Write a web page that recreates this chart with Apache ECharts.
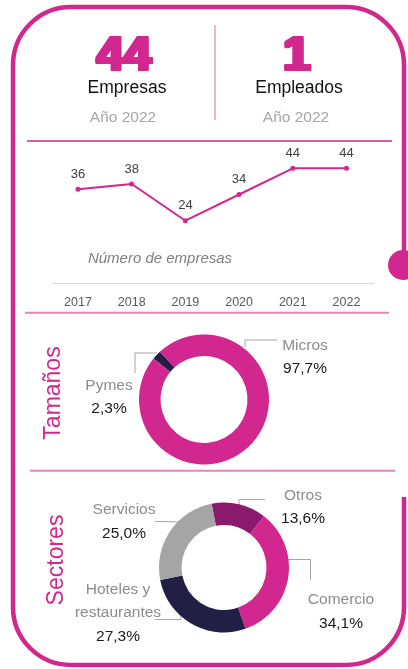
<!DOCTYPE html>
<html>
<head>
<meta charset="utf-8">
<script src="https://cdn.jsdelivr.net/npm/echarts@6/dist/echarts.min.js"></script>
<style>
  html, body { margin: 0; padding: 0; background: #fff; }
  #main { width: 408px; height: 669px; }
</style>
</head>
<body>
<div id="main"></div>
<script>
// datos
const anios = ['2017', '2018', '2019', '2020', '2021', '2022'];
const numEmpresas = [36, 38, 24, 34, 44, 44];
const tamanos = ['Pymes', 'Micros'];
const tamanosPct = [2.3, 97.7];
const sectores = ['Otros', 'Comercio', 'Hoteles y\nrestaurantes', 'Servicios'];
const sectoresPct = [13.6, 34.1, 27.3, 25.0];
const totalEmpresas = '44';
const totalEmpleados = '1';
const anioRef = 'Año 2022';

// colores
const MAG = '#D1278E';
const PINK_LINE = '#E486BE';
const GRIS = '#8C8C8C';
const NEGRO = '#1A1A1A';
const FONT = 'Liberation Sans';
const tamColors = ['#221F45', MAG];
const secColors = ['#8B1A6C', MAG, '#221F45', '#A5A5A5'];

// posiciones de etiquetas (centro del bloque + guia)
const tamLabels = {
    'Pymes': { x: 109, y: 397, line: [[157, 353], [135, 353], [135, 373]] },
    'Micros': { x: 305, y: 357, line: [[245, 347], [245, 340], [277, 340]] }
};
const secLabels = {
    'Otros': { x: 303, y: 507, line: [[239, 505], [239, 499.5], [265, 499.5]] },
    'Comercio': { x: 341, y: 611.5, line: [[288, 559.5], [310.5, 559.5], [310.5, 580]] },
    'Hoteles y\nrestaurantes': { x: 118, y: 613, line: [[181, 613], [181, 619.5], [155, 619.5]] },
    'Servicios': { x: 124, y: 521.5, line: [[178, 522], [166, 521.5], [155, 521.5]] }
};

function pct(v) {
    return v.toFixed(1).replace('.', ',') + '%';
}

const richLabel = {
    n: { color: GRIS, fontSize: 15.5, fontWeight: 'normal', lineHeight: 23.5, fontFamily: FONT, align: 'center' },
    v: { color: NEGRO, fontSize: 15.5, fontWeight: 'normal', lineHeight: 23.5, fontFamily: FONT, align: 'center' }
};

function txt(x, y, text, size, fill, extra, weight, family, italic) {
    return Object.assign({
        type: 'text', x: x, y: y, silent: true,
        style: {
            text: text, fontSize: size, fontWeight: weight || 'normal', fontFamily: family || FONT,
            fontStyle: italic ? 'italic' : 'normal',
            fill: fill, align: 'center', verticalAlign: 'middle'
        }
    }, extra || {});
}

// numeros grandes: varias copias desplazadas para engrosar (tipo Arial Black)
function bigNum(x, y, text) {
    const out = [];
    for (let dx = -2; dx <= 2; dx += 1) {
        for (let dy = -1; dy <= 1; dy += 1) {
            out.push(txt(x + dx, y + dy, text, 49, MAG, null, 'bold', FONT));
        }
    }
    return out;
}

function hline(x1, x2, y, color, w) {
    return { type: 'line', silent: true, shape: { x1: x1, y1: y, x2: x2, y2: y }, style: { stroke: color, lineWidth: w } };
}

const chart = echarts.init(document.getElementById('main'));

const pieLabel = {
    formatter: p => '{n|' + p.name + '}\n{v|' + pct(p.value) + '}',
    rich: richLabel,
    overflow: 'none'
};

const option = {
    animation: false,
    grid: { left: 51.15, top: 152.6, width: 322.2, height: 131 },
    xAxis: {
        type: 'category',
        data: anios,
        boundaryGap: true,
        axisLine: { lineStyle: { color: '#D9D9D9', width: 1 } },
        axisTick: { show: false },
        axisLabel: { color: '#595959', fontSize: 12.5, fontFamily: FONT, margin: 12 }
    },
    yAxis: { type: 'value', min: 0, max: 50, show: false },
    series: [
        {
            type: 'line',
            data: numEmpresas,
            symbol: 'circle',
            symbolSize: 5,
            itemStyle: { color: MAG },
            lineStyle: { color: MAG, width: 2 },
            label: { show: true, position: 'top', distance: 6, color: '#404040', fontSize: 13, fontFamily: FONT },
            silent: true
        },
        {
            type: 'pie',
            center: [204, 399.5],
            radius: [43.5, 65],
            startAngle: 141,
            silent: true,
            data: tamanos.map((n, i) => ({ name: n, value: tamanosPct[i], itemStyle: { color: tamColors[i] } })),
            label: pieLabel,
            labelLine: { show: true, lineStyle: { color: '#A6A6A6', width: 1 } },
            labelLayout: p => {
                const l = tamLabels[tamanos[p.dataIndex]];
                return { x: l.x, y: l.y, align: 'center', verticalAlign: 'middle', labelLinePoints: l.line };
            }
        },
        {
            type: 'pie',
            center: [224, 567.5],
            radius: [42.5, 65],
            startAngle: 101,
            silent: true,
            data: sectores.map((n, i) => ({ name: n, value: sectoresPct[i], itemStyle: { color: secColors[i] } })),
            label: pieLabel,
            labelLine: { show: true, lineStyle: { color: '#A6A6A6', width: 1 } },
            labelLayout: p => {
                const l = secLabels[sectores[p.dataIndex]];
                return { x: l.x, y: l.y, align: 'center', verticalAlign: 'middle', labelLinePoints: l.line };
            }
        }
    ],
    graphic: [
        // marco
        { type: 'rect', silent: true, shape: { x: 13, y: 7, width: 391, height: 658, r: 58 }, style: { fill: 'none', stroke: MAG, lineWidth: 4.5 } },
        { type: 'rect', silent: true, shape: { x: 397, y: 270, width: 14, height: 227 }, style: { fill: '#fff' } },
        { type: 'circle', silent: true, shape: { cx: 403, cy: 265, r: 15 }, style: { fill: MAG } },
        // cabecera
        ...bigNum(124, 56, totalEmpresas),
        ...bigNum(297, 56, totalEmpleados),
        txt(127, 88, 'Empresas', 17.5, '#111'),
        txt(299, 88, 'Empleados', 17.5, '#111'),
        txt(123, 118, anioRef, 15.5, '#A6A6A6'),
        txt(296, 118, anioRef, 15.5, '#A6A6A6'),
        { type: 'line', silent: true, shape: { x1: 215, y1: 25, x2: 215, y2: 120 }, style: { stroke: '#E89BC8', lineWidth: 1.5 } },
        // separadores
        hline(27, 392, 141, MAG, 1.5),
        hline(25, 389, 312.7, PINK_LINE, 2),
        hline(30, 395, 470.7, PINK_LINE, 2),
        txt(160, 259, 'Número de empresas', 15, '#7F7F7F', null, 'normal', FONT, true),
        txt(54, 393, 'Tamaños', 23, MAG, { rotation: Math.PI / 2 }),
        txt(57, 560, 'Sectores', 23, MAG, { rotation: Math.PI / 2 })
    ]
};

chart.setOption(option);
</script>
</body>
</html>
